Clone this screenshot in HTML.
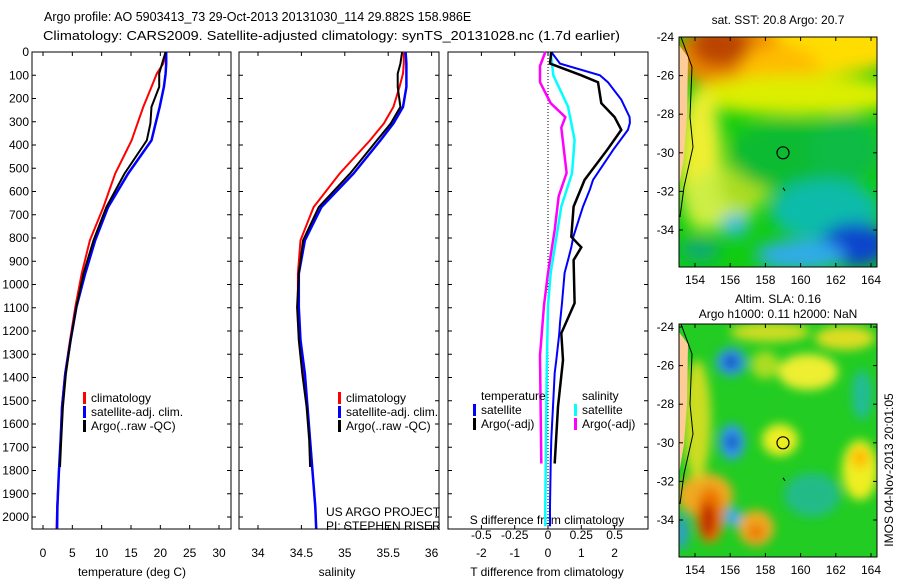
<!DOCTYPE html>
<html><head><meta charset="utf-8"><style>
html,body{margin:0;padding:0;background:#fff}
svg{display:block;font-family:"Liberation Sans",sans-serif}
</style></head><body>
<svg id="fig" width="900" height="580" xmlns="http://www.w3.org/2000/svg">
<defs>
<filter id="blur1" x="-20%" y="-20%" width="140%" height="140%"><feGaussianBlur stdDeviation="8"/></filter>
<filter id="blur2" x="-20%" y="-20%" width="140%" height="140%"><feGaussianBlur stdDeviation="5"/></filter>
<clipPath id="clipm1"><rect x="679" y="37" width="198" height="230"/></clipPath>
<clipPath id="clipm2"><rect x="679" y="324" width="198" height="233"/></clipPath>
</defs>
<text x="44" y="21" font-size="12.5">Argo profile: AO 5903413_73 29-Oct-2013 20131030_114 29.882S 158.986E</text>
<text x="43" y="40" font-size="13" textLength="577" lengthAdjust="spacingAndGlyphs">Climatology: CARS2009. Satellite-adjusted climatology: synTS_20131028.nc (1.7d earlier)</text>
<g id="panels"></g>
<g id="maps"></g>
<text transform="translate(893,470) rotate(-90)" font-size="12" text-anchor="middle">IMOS 04-Nov-2013 20:01:05</text>
</svg>
<script>
// ---------------- data ----------------
const depthTicks=[0,100,200,300,400,500,600,700,800,900,1000,1100,1200,1300,1400,1500,1600,1700,1800,1900,2000];
const tempTicks=[0,5,10,15,20,25,30];
const salTicks=[34,34.5,35,35.5,36];
const tdiffTicks=[-2,-1,0,1,2];
const sdiffTicks=[-0.5,-0.25,0,0.25,0.5];
const tDepth=[0,50,93,150,236,307,380,523,667,810,953,1097,1240,1384,1527,1670,1814,1957,2050];
const tClim=[21,20.5,19.4,18.5,17.1,16.1,15.1,12.3,10.3,8.0,6.6,5.5,4.6,3.75,3.2,3.0,2.7,2.4,2.3];
const tSat=[21,21,20.9,20.6,19.9,19.2,18.5,14.5,11.1,8.9,7.2,5.7,4.7,3.8,3.25,3.0,2.7,2.45,2.4];
const argoDepth=[0,50,93,150,236,307,380,523,667,810,953,1097,1240,1384,1527,1670,1785];
const tArgo=[20.9,20.3,19.8,19.8,18.5,18.3,17.7,13.9,10.8,8.6,6.9,5.7,4.7,3.9,3.4,3.1,2.9];
const sClim=[35.68,35.68,35.67,35.63,35.56,35.45,35.29,34.94,34.64,34.49,34.46,34.46,34.49,34.53,34.57,34.6,34.63,34.66,34.67];
const sSat=[35.7,35.71,35.71,35.71,35.67,35.56,35.41,35.1,34.73,34.54,34.47,34.47,34.49,34.54,34.57,34.6,34.63,34.66,34.67];
const sArgo=[35.66,35.64,35.61,35.61,35.64,35.53,35.37,35.06,34.7,34.52,34.47,34.45,34.47,34.51,34.56,34.59,34.6];
const dDepth=[0,50,100,130,205,280,305,335,420,550,590,665,795,840,895,950,1080,1165,1210,1325,1380,1525,1665,1770,1955,2040];
const dTSat=[0.1,0.36,1.56,1.8,2.2,2.45,2.46,2.4,1.96,1.35,1.26,1.05,0.76,0.7,0.6,0.5,0.42,0.36,0.34,0.25,0.2,0.15,0.1,0.08,0.06,0.06];
const dTArgoDepth=[0,50,100,130,220,280,335,420,550,665,795,840,895,1080,1210,1325,1525,1770];
const dTArgo=[0.1,0.06,1.0,1.5,1.6,2.0,2.2,1.78,1.1,0.77,0.7,1.0,0.77,0.8,0.4,0.45,0.3,0.2];
const dSDepth=[0,100,235,378,522,665,808,950,1090,1380,1955,2040];
const dSSat=[0.02,0.04,0.15,0.2,0.18,0.1,0.06,0.02,0,-0.01,-0.02,-0.02];
const dSArgoDepth=[0,60,130,220,280,325,520,620,765,950,1090,1305,1770];
const dSArgo=[-0.02,-0.06,-0.06,0.02,0.13,0.1,0.14,0.08,0.05,0,-0.03,-0.06,-0.05];
const lonTicks=[154,156,158,160,162,164];
const latTicks=[-24,-26,-28,-30,-32,-34];

const NS='http://www.w3.org/2000/svg';
const P=document.getElementById('panels');
function mk(tag,attrs,parent){const e=document.createElementNS(NS,tag);for(const k in attrs)e.setAttribute(k,attrs[k]);(parent||P).appendChild(e);return e;}
const yD=d=>52+d*0.2325;
const xT=t=>43+t*(176/30);
const xS=s=>258+(s-34)*86.8;
const xDT=t=>548+t*33.3;
const xDS=s=>548+s*133.2;
function line(xs,ds,fx,color,w,name){
  const pts=xs.map((v,i)=>fx(v).toFixed(1)+','+yD(ds[i]).toFixed(1)).join(' ');
  const e=mk('polyline',{points:pts,fill:'none',stroke:color,'stroke-width':w,'stroke-linejoin':'miter'});
  
  
}
function frame(x0,x1,name){
  const r=mk('rect',{x:x0,y:52,width:x1-x0,height:477,fill:'none',stroke:'#000','stroke-width':1});
  
  
  depthTicks.forEach(d=>{mk('line',{x1:x0,x2:x0+4,y1:yD(d),y2:yD(d),stroke:'#000'});mk('line',{x1:x1,x2:x1-4,y1:yD(d),y2:yD(d),stroke:'#000'});});
}
function txt(x,y,s,size,anchor,name){const t=mk('text',{x:x,y:y,'font-size':size,'text-anchor':anchor||'start'});t.textContent=s;return t;}
function xticks(ticks,fx,x0,x1,name){ticks.forEach(v=>{const x=fx(v);mk('line',{x1:x,x2:x,y1:529,y2:525,stroke:'#000'});mk('line',{x1:x,x2:x,y1:52,y2:56,stroke:'#000'});txt(x,557,String(v),12,'middle',name);});}

// panel 1
frame(32,231,'temperature-panel');
depthTicks.forEach(d=>txt(29,yD(d)+4,String(d),12,'end','depth-tick-label'));
xticks(tempTicks,xT,32,231,'temp-tick-label');
txt(132,576,'temperature (deg C)',12,'middle','temperature-axis-title');
line(tClim,tDepth,xT,'#f00',2,'temp-climatology-line');
line(tSat,tDepth,xT,'#00f',2.5,'temp-satellite-line');
line(tArgo,argoDepth,xT,'#000',2,'temp-argo-line');
function legend(x,y,items,name){items.forEach((it,i)=>{mk('rect',{x:x,y:y+i*14-10,width:3,height:12,fill:it[0]});txt(x+8,y+i*14,it[1],12,'start',name);});}
legend(83,402,[['#f00','climatology'],['#00f','satellite-adj. clim.'],['#000','Argo(..raw -QC)']],'temp-legend-entry');

// panel 2
frame(239,439,'salinity-panel');
xticks(salTicks,xS,239,439,'salinity-tick-label');
txt(337,576,'salinity',12,'middle','salinity-axis-title');
line(sClim,tDepth,xS,'#f00',2,'sal-climatology-line');
line(sSat,tDepth,xS,'#00f',2.5,'sal-satellite-line');
line(sArgo,argoDepth,xS,'#000',2,'sal-argo-line');
legend(338,402,[['#f00','climatology'],['#00f','satellite-adj. clim.'],['#000','Argo(..raw -QC)']],'sal-legend-entry');
txt(326,516,'US ARGO PROJECT',12,'start','project-credit');
txt(326,530,'PI: STEPHEN RISER',12,'start','pi-credit');

// panel 3
frame(448,648,'difference-panel');
mk('line',{x1:548,x2:548,y1:52,y2:529,stroke:'#000','stroke-dasharray':'1,2'});
xticks(tdiffTicks,xDT,448,648,'tdiff-tick-label');
txt(547,576,'T difference from climatology',12,'middle','tdiff-axis-title');
txt(547,524,'S difference from climatology',12,'middle','sdiff-axis-title');
sdiffTicks.forEach(v=>txt(xDS(v),539,String(v),12,'middle','sdiff-tick-label'));
line(dSArgo,dSArgoDepth,xDS,'#f0f',2.5,'sdiff-argo-line');
line(dSSat,dSDepth,xDS,'#0ff',2.5,'sdiff-satellite-line');
line(dTSat,dDepth,xDT,'#00f',2,'tdiff-satellite-line');
line(dTArgo,dTArgoDepth,xDT,'#000',2.5,'tdiff-argo-line');
txt(481,400,'temperature',12,'start','legend-temperature-heading');
txt(582,400,'salinity',12,'start','legend-salinity-heading');
legend(473,414,[['#00f','satellite'],['#000','Argo(-adj)']],'tdiff-legend-entry');
legend(574,414,[['#0ff','satellite'],['#f0f','Argo(-adj)']],'sdiff-legend-entry');

// ---------------- maps ----------------
const M=document.getElementById('maps');
function blobs(parent,list,filt){const g=mk('g',{filter:filt},parent);list.forEach(b=>mk('ellipse',{cx:b[0],cy:b[1],rx:b[2],ry:b[3],fill:b[4]},g));}
function map(y0,lat0y,clip,bg,list,name,title1,title2,filt){
  const g=mk('g',{'clip-path':'url(#'+clip+')'},M);
  
  
  mk('rect',{x:679,y:y0,width:198,height:(clip==='clipm1'?230:233),fill:bg},g);
  blobs(g,list,filt);
  mk('path',{d:'M679,'+(y0+8)+' L688,'+(y0+20)+' L687,'+(y0+80)+' L684,'+(y0+120)+' L679,'+(y0+150)+' Z',fill:'#fc9'},g);
  mk('path',{d:'M681,'+(y0)+' L692,'+(y0+30)+' L690,'+(y0+80)+' L693,'+(y0+110)+' L684,'+(y0+150)+' L680,'+(y0+180)+'',fill:'none',stroke:'#000','stroke-width':1},g);
  const cy=lat0y+6*19.3, cx=679+16+5*17.6;
  mk('circle',{cx:cx,cy:cy,r:6,fill:'none',stroke:'#000','stroke-width':1.2},g);
  mk('path',{d:'M'+(cx)+','+(cy+35)+' l2,3',stroke:'#000',fill:'none'},g);
  const h=(clip==='clipm1'?230:233);
  const fr=mk('rect',{x:679,y:y0,width:198,height:h,fill:'none',stroke:'#000'},M);
  
  
  lonTicks.forEach((v,i)=>{const x=695+i*35.2;mk('line',{x1:x,x2:x,y1:y0+h,y2:y0+h-4,stroke:'#000'},M);mk('line',{x1:x,x2:x,y1:y0,y2:y0+4,stroke:'#000'},M);const t=mk('text',{x:x,y:y0+h+17,'font-size':12,'text-anchor':'middle'},M);t.textContent=v;});
  latTicks.forEach((v,i)=>{const y=lat0y+i*38.6;mk('line',{x1:679,x2:683,y1:y,y2:y,stroke:'#000'},M);mk('line',{x1:877,x2:873,y1:y,y2:y,stroke:'#000'},M);const t=mk('text',{x:674,y:y+4,'font-size':12,'text-anchor':'end'},M);t.textContent=v;});
  const t1=mk('text',{x:778,y:(clip==='clipm1'?y0-13:y0-21),'font-size':12,'text-anchor':'middle'},M);t1.textContent=title1;
  if(title2){const t2=mk('text',{x:778,y:y0-6,'font-size':12,'text-anchor':'middle'},M);t2.textContent=title2;}
}
map(37,37,'clipm1','#1c1',[
 [820,45,90,30,'#fd0'],[730,55,55,35,'#e80'],[720,45,30,22,'#b40'],[780,70,40,25,'#fb0'],
 [800,95,110,20,'#de0'],[700,160,22,70,'#ee3'],[720,200,35,30,'#ce4'],[745,185,25,25,'#ad2'],
 [790,155,60,35,'#1b3'],[845,150,35,35,'#1b4'],[825,210,55,30,'#1ba'],[855,245,35,22,'#14c'],[800,255,45,15,'#3ae'],[735,225,14,12,'#3bd'],[700,250,20,12,'#1a7']
],'sst-map','sat. SST: 20.8 Argo: 20.7','', 'url(#blur1)');
map(324,327,'clipm2','#2c2',[
 [770,332,40,10,'#cd2'],[845,338,30,12,'#dd2'],[808,372,30,18,'#ee3'],[765,365,14,14,'#ad2'],
 [731,362,15,14,'#39e'],[732,442,13,18,'#39e'],[731,362,7,7,'#14b'],[732,442,6,7,'#14b'],
 [780,440,18,16,'#ee2'],[862,395,10,25,'#2b9'],[860,470,18,30,'#ee2'],[860,458,9,10,'#fb0'],
 [705,495,28,22,'#ea2'],[710,515,14,28,'#e70'],[708,520,7,18,'#b20'],[756,528,18,18,'#ea2'],[756,532,8,8,'#e70'],
 [812,495,28,22,'#2b8'],[733,517,8,9,'#3ae'],[682,532,6,18,'#39d'],[697,420,14,60,'#cd2']
],'sla-map','Altim. SLA: 0.16','Argo h1000: 0.11 h2000: NaN','url(#blur2)');
</script>
</body></html>
